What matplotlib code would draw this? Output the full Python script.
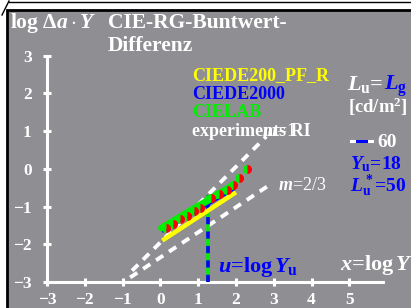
import matplotlib
matplotlib.use("Agg")
import matplotlib.pyplot as plt
from matplotlib.patches import Rectangle
from matplotlib.lines import Line2D

plt.rcParams["font.family"] = ["Liberation Serif", "DejaVu Serif"]
plt.rcParams["font.weight"] = "bold"
plt.rcParams["mathtext.fontset"] = "custom"
plt.rcParams["mathtext.rm"] = "Liberation Serif:bold"
plt.rcParams["mathtext.it"] = "Liberation Serif:italic:bold"
plt.rcParams["mathtext.bf"] = "Liberation Serif:bold"

W, H = 411, 308
GREY = "#8f8f93"

x_ticks = [-3, -2, -1, 0, 1, 2, 3, 4, 5]
y_ticks = [-3, -2, -1, 0, 1, 2, 3]

# reference slopes (white dashed)
m1_x = [-0.75, 2.8]
m1_y = [-2.7, 0.86]
m23_x = [-0.8, 2.85]
m23_y = [-2.88, -0.45]

# model lines
yellow_x = [0.05, 2.0]
yellow_y = [-1.9, -0.62]
blue_x = [0.03, 1.95]
blue_y = [-1.64, -0.5]
green_x = [0.03, 1.95]
green_y = [-1.57, -0.42]

# experiment points
exp_x = [0.16, 0.34, 0.52, 0.71, 0.89, 1.06, 1.35, 1.56, 1.75, 1.92, 2.09, 2.30]
exp_y = [-1.57, -1.46, -1.32, -1.26, -1.11, -1.03, -0.77, -0.66, -0.56, -0.42, -0.24, 0.0]

u_val = 1.255  # log10(18)
u_line_y = [-3.0, -0.7]

fig = plt.figure(figsize=(W / 100, H / 100), dpi=100, facecolor="white")

def fx(px):
    return px / W

def fy(py):
    return 1 - py / H

# grey panel with black frame
fig.patches.append(Rectangle((fx(7), -0.01), 1 - fx(7) + 0.01, fy(10) + 0.01, transform=fig.transFigure,
                             facecolor=GREY, edgecolor="black", linewidth=2, zorder=0))
fig.lines.append(Line2D([fx(9), 1], [fy(2), fy(2)], transform=fig.transFigure, color="black", lw=1))
fig.lines.append(Line2D([fx(2), fx(9)], [fy(15), fy(1)], transform=fig.transFigure, color="black", lw=1))

ax = fig.add_axes([0, 0, 1, 1])
ax.set_zorder(2)
ax.patch.set_alpha(0)
ax.set_xlim(-3 - 47 / 37.8, -3 + (W - 47) / 37.8)
ax.set_ylim(-3 - 26 / 37.7, -3 + 282 / 37.7)

for s in ["top", "right"]:
    ax.spines[s].set_visible(False)
for s in ["left", "bottom"]:
    ax.spines[s].set_position(("data", -3))
    ax.spines[s].set_color("white")
    ax.spines[s].set_linewidth(2.2)
ax.spines["left"].set_bounds(-3, 3)
ax.spines["bottom"].set_bounds(-3, 5.9)

ax.set_xticks(x_ticks)
ax.set_yticks(y_ticks)
ax.set_xticklabels([f"{v}".replace("-", "\u2212") for v in x_ticks])
ax.set_yticklabels([f"{v}".replace("-", "\u2212") for v in y_ticks])
ax.tick_params(direction="inout", length=6, width=2.2, color="white",
               labelcolor="white", labelsize=12.5)
ax.tick_params(axis="x", pad=4.5)
ax.tick_params(axis="y", pad=8)

# dashed reference lines
ax.plot(m1_x, m1_y, color="white", lw=2.8, ls=(0, (2.2, 1.8)), zorder=2)
ax.plot(m23_x, m23_y, color="white", lw=2.8, ls=(0, (2.2, 1.8)), zorder=2)

# vertical line at u
ax.plot([u_val, u_val], u_line_y, color="#00ee00", lw=2.6, solid_capstyle="butt", zorder=3)
ax.plot([u_val, u_val], u_line_y, color="#0000ff", lw=2.6, ls=(0, (2, 2)), zorder=3)

ax.plot(yellow_x, yellow_y, color="#ffff00", lw=3.2, solid_capstyle="butt", zorder=3)
ax.plot(blue_x, blue_y, color="#0000ff", lw=3.5, solid_capstyle="butt", zorder=3)
ax.plot(green_x, green_y, color="#00ee00", lw=5, solid_capstyle="round", zorder=4)
ax.plot(exp_x, exp_y, ls="none", marker="o", ms=6.5, fillstyle="left",
        markerfacecolor="#00ee00", markerfacecoloralt="#ff0000", markeredgewidth=0, zorder=5)

# titles
fig.text(fx(10), fy(28), r"log $\Delta a\cdot Y$", color="white", fontsize=15.5, va="baseline")
fig.text(fx(108), fy(28), "CIE-RG-Buntwert-", color="white", fontsize=15.5, va="baseline")
fig.text(fx(108), fy(51), "Differenz", color="white", fontsize=15.5, va="baseline")

# legend texts
leg = [("CIEDE200_PF_R", "#ffff00", 80), ("CIEDE2000", "#0000ff", 99),
       ("CIELAB", "#00ee00", 117), ("experiments RI", "white", 136)]
for t, c, y in leg:
    fig.text(fx(192), fy(y), t, color=c, fontsize=13, va="baseline")
fig.text(fx(262), fy(136), r"$m$=1", color="white", fontsize=13, va="baseline", fontweight="normal")
fig.text(fx(278), fy(190), r"$m$=2/3", color="white", fontsize=13, va="baseline",
         fontweight="normal")

# right block
fig.text(fx(347), fy(90), r"$L_{\rm u}$=", color="white", fontsize=16, va="baseline")
fig.text(fx(384), fy(90), r"$L_{\rm g}$", color="#0000ff", fontsize=16, va="baseline")
fig.text(fx(348), fy(113), r"[cd/m$^{\rm 2}$]", color="white", fontsize=13.5, va="baseline")
fig.lines.append(Line2D([fx(351), fx(372)], [fy(141), fy(141)], transform=fig.transFigure,
                        color="white", lw=2.2))
fig.lines.append(Line2D([fx(357), fx(366)], [fy(141), fy(141)], transform=fig.transFigure,
                        color="#0000ff", lw=2.2))
fig.text(fx(377), fy(147), "60", color="white", fontsize=14, va="baseline")
fig.text(fx(350), fy(169), r"$Y_{\rm u}$=18", color="#0000ff", fontsize=14, va="baseline")
fig.text(fx(350), fy(192), r"$L^*_{\rm u}$=50", color="#0000ff", fontsize=14, va="baseline")

fig.text(fx(218), fy(272), r"$u$=log$\,Y_{\rm u}$", color="#0000ff", fontsize=16, va="baseline")
fig.text(fx(340), fy(270), r"$x$=log$\,Y$", color="white", fontsize=16, va="baseline")

fig.savefig("out.png", dpi=100, facecolor="white")
